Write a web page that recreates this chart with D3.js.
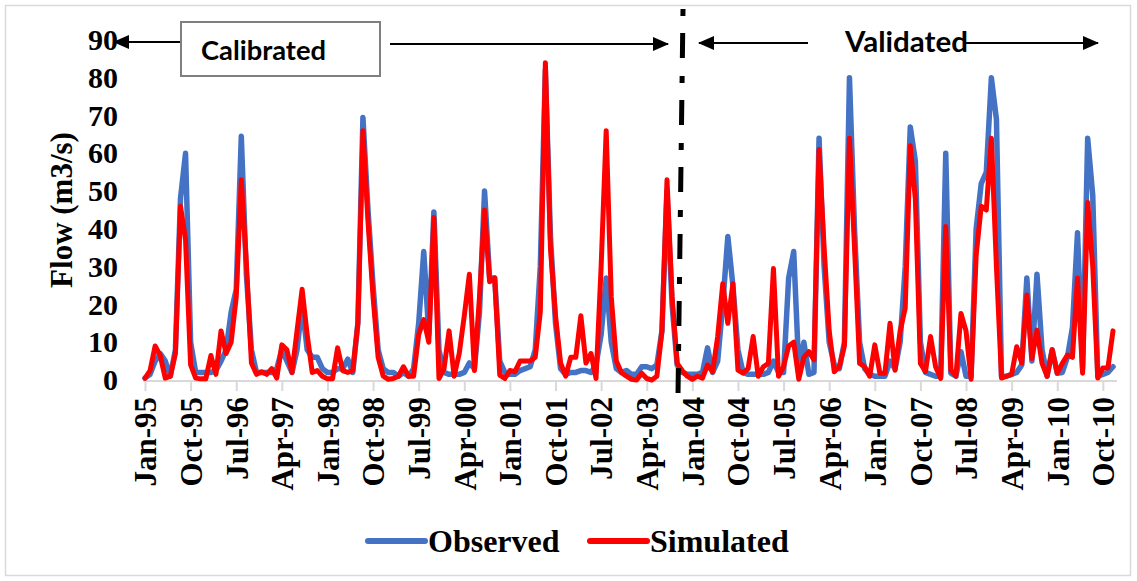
<!DOCTYPE html>
<html>
<head>
<meta charset="utf-8">
<script src="https://cdn.jsdelivr.net/npm/d3@7"></script>
<style>
  body { margin: 0; background: #fff; }
  svg { display: block; }
</style>
</head>
<body>
<div id="chart"></div>
<script>

    // monthly flow, Jan-95 .. Dec-10 (192 months)
    var observed = [
      0.5, 1.5, 5, 7, 5, 1, 8, 48, 60, 10, 2, 2,
      2, 2, 2.5, 5, 8, 18, 24, 64.5, 28, 8, 2, 2,
      2, 2, 3, 8, 5, 2, 8, 20, 8, 6, 6, 3,
      2, 2, 3, 3, 5.5, 2, 15, 69.5, 45, 25, 8, 3,
      2, 2, 1, 2, 1, 3, 15, 34, 12, 44.5, 8, 2,
      1.5, 1.5, 1.5, 2, 4.5, 3, 18, 50, 27, 27, 5, 2,
      1.5, 1.5, 2.5, 3, 3.5, 8, 30, 82, 38, 15, 3, 1.5,
      2, 2, 2.5, 2.5, 2, 4, 12, 27, 10, 3, 2, 2.5,
      1.5, 1.5, 3.5, 3.5, 3, 4, 13, 50, 20, 4, 2, 1.5,
      1.5, 1.5, 2, 8.5, 2, 5, 20, 38, 25, 8, 2, 1.5,
      1.5, 1.5, 1.5, 2, 5, 2, 2, 27, 34, 3, 10, 1.5,
      2, 64, 30, 10, 4, 3, 10, 80, 40, 10, 3, 1.5,
      1, 1, 1, 5, 3, 10, 30, 67, 58, 10, 2, 1.5,
      1, 1, 60, 1.8, 1, 7.5, 1, 1, 40, 52, 55, 80,
      69, 1, 1, 1.5, 2, 4, 27, 5, 28, 8, 1, 8,
      1.8, 2, 6, 14, 39, 3, 64, 49, 1, 1.5, 2, 3.5
    ];

    var simulated = [
      0.5, 2.5, 9, 6.5, 0.5, 1, 7, 46, 37, 4, 0.5, 0.3,
      0.3, 6.5, 1.5, 13, 7, 10, 22, 53, 31, 4.5, 1.5, 2.2,
      1.5, 3, 0.5, 9.3, 8, 2, 13, 24, 12, 2, 2.5, 1,
      0.3, 0.3, 8.5, 2.5, 2, 2.5, 15, 66, 42, 22, 6, 1,
      0.2, 0.4, 1, 3.5, 1, 1, 12, 16, 10, 43, 0.4, 3,
      13, 1, 7, 17, 28, 2.5, 22, 45, 26, 27, 1.3, 0.4,
      2.5, 2.2, 5, 5, 5, 6, 18, 84, 35, 17, 4.5, 1,
      6, 6, 17, 4.5, 7, 0.4, 30, 66, 22, 5, 2, 1,
      0.2, 0, 1.8, 0.4, 0, 1, 13, 53, 22, 4.4, 2.5, 1,
      0.2, 1, 0.5, 4, 2.2, 11.5, 25.5, 15, 25.5, 2.6, 1.8, 3,
      11.5, 1, 3.5, 4.4, 29.5, 1, 3.5, 9, 10, 0.2, 6, 7.5,
      5.3, 61, 35, 13, 2.2, 3.5, 9, 64, 35, 4.4, 3.5, 1,
      9.3, 1.8, 1.8, 15, 2.6, 13, 19, 62, 48, 4.4, 2.2, 11.5,
      3.5, 0.4, 40.6, 2.6, 1, 17.6, 13, 0.2, 33, 46, 45, 64,
      30, 0.5, 1, 1.5, 8.8, 4.5, 22.5, 5.7, 13.2, 4.4, 1, 8,
      1.8, 4.4, 6.6, 6, 27, 1.8, 47, 30, 0.5, 3.2, 3.2, 13
    ];

    // every 9th month is labelled
    var tickLabels = [
      "Jan-95", "Oct-95", "Jul-96", "Apr-97", "Jan-98", "Oct-98", "Jul-99", "Apr-00",
      "Jan-01", "Oct-01", "Jul-02", "Apr-03", "Jan-04", "Oct-04", "Jul-05", "Apr-06",
      "Jan-07", "Oct-07", "Jul-08", "Apr-09", "Jan-10", "Oct-10"
    ];
    var yTicks = [0, 10, 20, 30, 40, 50, 60, 70, 80, 90];

    var seriesNames = ["Observed", "Simulated"];
    var seriesColors = ["#4472C4", "#FF0000"];

    //=========================================================================
    // Set Dimensions
    //=========================================================================
    var width = 1137,
        height = 581,
        serif = "'Liberation Serif', 'Times New Roman', serif",
        sans = "Lato, 'Open Sans', sans-serif";

    var svg = d3.select("#chart")
      .append("svg")
      .attr("width", width)
      .attr("height", height);

    // outer frame
    svg.append("rect")
      .attr("x", 5.5).attr("y", 5.5)
      .attr("width", 1125).attr("height", 570)
      .attr("fill", "none")
      .attr("stroke", "#d9d9d9")
      .attr("stroke-width", 1.5);

    //=========================================================================
    // Scales
    //=========================================================================
    var x = d3.scaleLinear()
      .domain([0, observed.length - 1])
      .range([145, 1113]);

    var y = d3.scaleLinear()
      .domain([0, 90])
      .range([380, 40]);

    //=========================================================================
    // Axes
    //=========================================================================
    var xAxis = svg.append("g")
      .attr("transform", "translate(0,381)")
      .call(d3.axisBottom(x)
        .tickValues(d3.range(0, observed.length, 9))
        .tickFormat(function(d) { return tickLabels[d / 9]; })
        .tickSize(10)
        .tickSizeOuter(0));

    xAxis.select(".domain")
      .attr("d", "M143,0H1117")
      .attr("stroke", "#d9d9d9")
      .attr("stroke-width", 2);
    xAxis.selectAll(".tick line")
      .attr("stroke", "#d9d9d9")
      .attr("stroke-width", 2);
    xAxis.selectAll(".tick text")
      .attr("transform", "rotate(-90)")
      .attr("text-anchor", "end")
      .attr("x", -16)
      .attr("y", 0)
      .attr("dy", "0.35em")
      .attr("fill", "#000")
      .style("font-family", serif)
      .style("font-weight", "bold")
      .style("font-size", "31px");

    var yAxis = svg.append("g")
      .attr("transform", "translate(118,0)")
      .call(d3.axisLeft(y)
        .tickValues(yTicks)
        .tickSize(0)
        .tickPadding(0));

    yAxis.select(".domain").remove();
    yAxis.selectAll(".tick text")
      .attr("fill", "#000")
      .style("font-family", serif)
      .style("font-weight", "bold")
      .style("font-size", "30px");

    svg.append("text")
      .attr("transform", "translate(61,210) rotate(-90)")
      .attr("text-anchor", "middle")
      .attr("dy", "0.35em")
      .style("font-family", serif)
      .style("font-weight", "bold")
      .style("font-size", "31px")
      .text("Flow (m3/s)");

    //=========================================================================
    // Lines
    //=========================================================================
    var line = d3.line()
      .x(function(d, i) { return x(i); })
      .y(function(d) { return y(d); });

    [observed, simulated].forEach(function(series, k) {
      svg.append("path")
        .datum(series)
        .attr("d", line)
        .attr("fill", "none")
        .attr("stroke", seriesColors[k])
        .attr("stroke-width", k == 0 ? 5.5 : 5)
        .attr("stroke-linejoin", "round")
        .attr("stroke-linecap", "round");
    });

    //=========================================================================
    // Calibrated / Validated annotations
    //=========================================================================
    var defs = svg.append("defs");
    defs.append("marker")
      .attr("id", "arrow")
      .attr("markerUnits", "userSpaceOnUse")
      .attr("markerWidth", 16)
      .attr("markerHeight", 14)
      .attr("refX", 15)
      .attr("refY", 7)
      .attr("orient", "auto")
      .append("path")
      .attr("d", "M0,0L16,7L0,14Z")
      .attr("fill", "#000");

    var arrows = [
      [181, 42, 114, 42],
      [390, 44, 668, 44],
      [808, 43, 699, 43],
      [963, 43, 1098, 43]
    ];
    svg.selectAll(".arrow")
      .data(arrows)
      .enter()
      .append("line")
      .attr("class", "arrow")
      .attr("x1", function(d) { return d[0]; })
      .attr("y1", function(d) { return d[1]; })
      .attr("x2", function(d) { return d[2]; })
      .attr("y2", function(d) { return d[3]; })
      .attr("stroke", "#000")
      .attr("stroke-width", 2)
      .attr("marker-end", "url(#arrow)");

    svg.append("rect")
      .attr("x", 181).attr("y", 22)
      .attr("width", 199).attr("height", 54)
      .attr("fill", "#fff")
      .attr("stroke", "#7f7f7f")
      .attr("stroke-width", 2);

    svg.append("text")
      .attr("x", 201).attr("y", 60)
      .attr("textLength", 125)
      .attr("lengthAdjust", "spacingAndGlyphs")
      .style("font-family", sans)
      .style("font-weight", "bold")
      .style("font-size", "27px")
      .text("Calibrated");

    svg.append("text")
      .attr("x", 845).attr("y", 52)
      .attr("textLength", 123)
      .attr("lengthAdjust", "spacingAndGlyphs")
      .style("font-family", sans)
      .style("font-weight", "bold")
      .style("font-size", "29px")
      .text("Validated");

    // split between calibration and validation periods
    svg.append("line")
      .attr("x1", 683).attr("y1", 9)
      .attr("x2", 678).attr("y2", 395)
      .attr("stroke", "#000")
      .attr("stroke-width", 5)
      .attr("stroke-dasharray", "7,17,25,18");

    //=========================================================================
    // Legend
    //=========================================================================
    var legendX = [368, 590];
    seriesNames.forEach(function(name, k) {
      svg.append("line")
        .attr("x1", legendX[k]).attr("y1", 541)
        .attr("x2", legendX[k] + 57).attr("y2", 541)
        .attr("stroke", seriesColors[k])
        .attr("stroke-width", 6)
        .attr("stroke-linecap", "round");
      svg.append("text")
        .attr("x", legendX[k] + 60).attr("y", 552)
        .style("font-family", serif)
        .style("font-weight", "bold")
        .style("font-size", "32px")
        .text(name);
    });

</script>
</body>
</html>
